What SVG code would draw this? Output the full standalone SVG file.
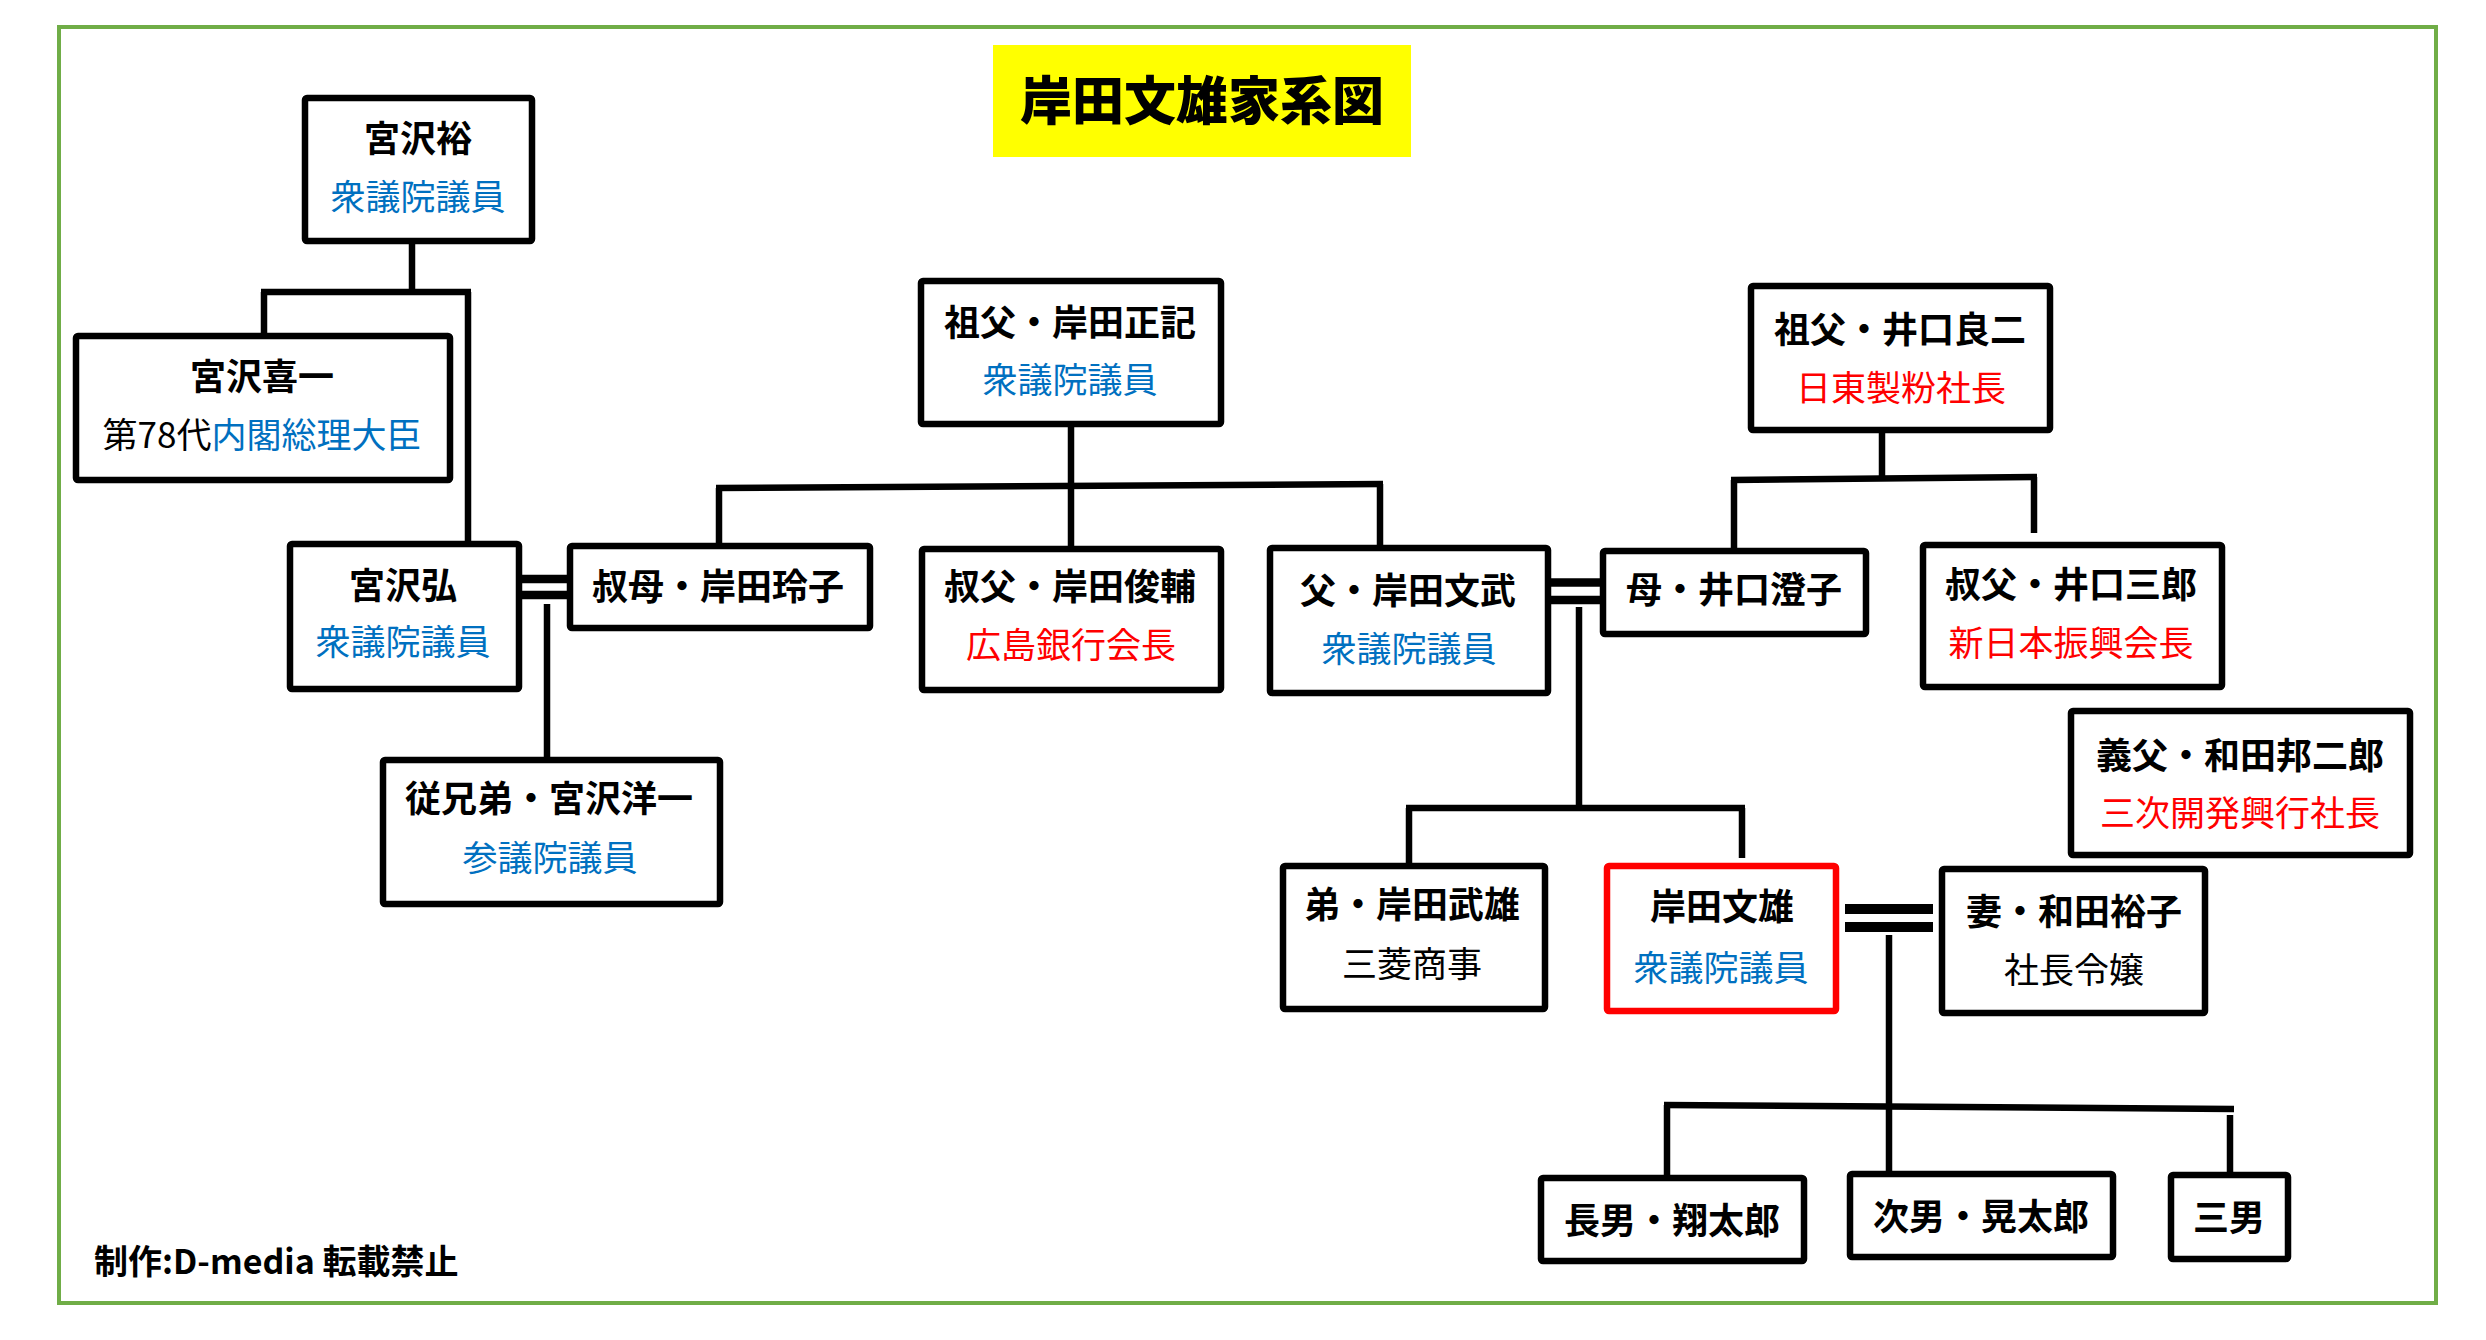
<svg xmlns="http://www.w3.org/2000/svg" width="2486" height="1340" viewBox="0 0 2486 1340">
<style>
.box{fill:#fff;stroke:#000;stroke-width:6.5}
.me{fill:#fff;stroke:#FF0000;stroke-width:6.5}
.ln{stroke:#000;stroke-width:6.5;fill:none;stroke-linecap:butt}
.m1{stroke:#000;stroke-width:8.5}
.m2{stroke:#000;stroke-width:10}
text{font-family:"Noto Sans CJK JP","Noto Sans",sans-serif;text-anchor:middle}
.n{font-size:36px;font-weight:bold;fill:#000}
.s{font-size:35px;font-weight:normal}
.b{fill:#0070C0}
.r{fill:#FF0000}
.k{fill:#000}
</style>
<rect x="0" y="0" width="2486" height="1340" fill="#fff"/>
<rect x="59" y="27" width="2377" height="1276" fill="none" stroke="#70AD47" stroke-width="4"/>
<g id="title">
<rect x="993" y="45" width="418" height="112" fill="#FFFF00"/>
<text x="1202" y="120" style="font-size:52px;font-weight:900;fill:#000">岸田文雄家系図</text>
</g>
<g id="connectors">
<line class="ln" x1="412" y1="244" x2="412" y2="292"/>
<line class="ln" x1="261" y1="292" x2="471" y2="292"/>
<line class="ln" x1="264" y1="292" x2="264" y2="336"/>
<line class="ln" x1="468" y1="292" x2="468" y2="544"/>
<line class="m1" x1="522" y1="579" x2="567" y2="579"/>
<line class="m1" x1="522" y1="595" x2="567" y2="595"/>
<line class="ln" x1="547" y1="604" x2="547" y2="760"/>
<line class="ln" x1="1071" y1="427" x2="1071" y2="549"/>
<line class="ln" x1="716" y1="488" x2="1383" y2="484"/>
<line class="ln" x1="719" y1="488" x2="719" y2="546"/>
<line class="ln" x1="1380" y1="484" x2="1380" y2="548"/>
<line class="m1" x1="1551" y1="582.5" x2="1600" y2="582.5"/>
<line class="m1" x1="1551" y1="600" x2="1600" y2="600"/>
<line class="ln" x1="1579" y1="607" x2="1579" y2="808"/>
<line class="ln" x1="1406" y1="808" x2="1745" y2="808"/>
<line class="ln" x1="1409" y1="808" x2="1409" y2="866"/>
<line class="ln" x1="1742" y1="808" x2="1742" y2="858"/>
<line class="ln" x1="1882" y1="433" x2="1882" y2="478"/>
<line class="ln" x1="1731" y1="480" x2="2037" y2="477"/>
<line class="ln" x1="1734" y1="480" x2="1734" y2="551"/>
<line class="ln" x1="2034" y1="477" x2="2034" y2="533"/>
<line class="m2" x1="1845" y1="909" x2="1933" y2="909"/>
<line class="m2" x1="1845" y1="927" x2="1933" y2="927"/>
<line class="ln" x1="1889" y1="935" x2="1889" y2="1174"/>
<line class="ln" x1="1664" y1="1105" x2="2234" y2="1109"/>
<line class="ln" x1="1667" y1="1105" x2="1667" y2="1178"/>
<line class="ln" x1="2230" y1="1115" x2="2230" y2="1175"/>
</g>
<g id="miyazawa-yutaka">
<rect class="box" x="305" y="98" width="227" height="143" rx="2"/>
<text class="n" x="418" y="152">宮沢裕</text>
<text class="s b" x="418" y="210">衆議院議員</text>
</g>
<g id="miyazawa-kiichi">
<rect class="box" x="76" y="336" width="374" height="144" rx="2"/>
<text class="n" x="262" y="390">宮沢喜一</text>
<text class="s" x="262" y="448"><tspan class="k">第78代</tspan><tspan class="b">内閣総理大臣</tspan></text>
</g>
<g id="miyazawa-hiroshi">
<rect class="box" x="290" y="544" width="229" height="145" rx="2"/>
<text class="n" x="403" y="599">宮沢弘</text>
<text class="s b" x="403" y="655">衆議院議員</text>
</g>
<g id="kishida-reiko">
<rect class="box" x="570" y="546" width="300" height="82" rx="2"/>
<text class="n" x="718" y="600">叔母・岸田玲子</text>
</g>
<g id="miyazawa-yoichi">
<rect class="box" x="383" y="760" width="337" height="144" rx="2"/>
<text class="n" x="549" y="812">従兄弟・宮沢洋一</text>
<text class="s b" x="550" y="871">参議院議員</text>
</g>
<g id="kishida-masaki">
<rect class="box" x="921" y="281" width="300" height="143" rx="2"/>
<text class="n" x="1070" y="336">祖父・岸田正記</text>
<text class="s b" x="1070" y="393">衆議院議員</text>
</g>
<g id="kishida-shunsuke">
<rect class="box" x="922" y="549" width="299" height="141" rx="2"/>
<text class="n" x="1070" y="600">叔父・岸田俊輔</text>
<text class="s r" x="1071" y="658">広島銀行会長</text>
</g>
<g id="kishida-fumitake">
<rect class="box" x="1270" y="548" width="278" height="145" rx="2"/>
<text class="n" x="1408" y="604">父・岸田文武</text>
<text class="s b" x="1409" y="662">衆議院議員</text>
</g>
<g id="iguchi-sumiko">
<rect class="box" x="1603" y="551" width="263" height="83" rx="2"/>
<text class="n" x="1734" y="603">母・井口澄子</text>
</g>
<g id="iguchi-ryoji">
<rect class="box" x="1751" y="286" width="299" height="144" rx="2"/>
<text class="n" x="1900" y="343">祖父・井口良二</text>
<text class="s r" x="1901" y="401">日東製粉社長</text>
</g>
<g id="iguchi-saburo">
<rect class="box" x="1923" y="545" width="299" height="142" rx="2"/>
<text class="n" x="2071" y="598">叔父・井口三郎</text>
<text class="s r" x="2071" y="656">新日本振興会長</text>
</g>
<g id="wada-kunijiro">
<rect class="box" x="2071" y="711" width="339" height="144" rx="2"/>
<text class="n" x="2240" y="769">義父・和田邦二郎</text>
<text class="s r" x="2240" y="826">三次開発興行社長</text>
</g>
<g id="kishida-takeo">
<rect class="box" x="1283" y="866" width="262" height="143" rx="2"/>
<text class="n" x="1412" y="918">弟・岸田武雄</text>
<text class="s k" x="1412" y="977">三菱商事</text>
</g>
<g id="kishida-fumio">
<rect class="me" x="1607" y="866" width="229" height="145" rx="2"/>
<text class="n" x="1722" y="920">岸田文雄</text>
<text class="s b" x="1721" y="981">衆議院議員</text>
</g>
<g id="wada-yuko">
<rect class="box" x="1942" y="869" width="263" height="144" rx="2"/>
<text class="n" x="2074" y="925">妻・和田裕子</text>
<text class="s k" x="2074" y="983">社長令嬢</text>
</g>
<g id="shotaro">
<rect class="box" x="1541" y="1178" width="263" height="83" rx="2"/>
<text class="n" x="1672" y="1234">長男・翔太郎</text>
</g>
<g id="kotaro">
<rect class="box" x="1850" y="1174" width="263" height="83" rx="2"/>
<text class="n" x="1981" y="1230">次男・晃太郎</text>
</g>
<g id="third-son">
<rect class="box" x="2171" y="1175" width="117" height="84" rx="2"/>
<text class="n" x="2229" y="1231">三男</text>
</g>
<text x="94" y="1274" style="font-size:34px;font-weight:bold;fill:#000;text-anchor:start">制作:D-media 転載禁止</text>
</svg>
